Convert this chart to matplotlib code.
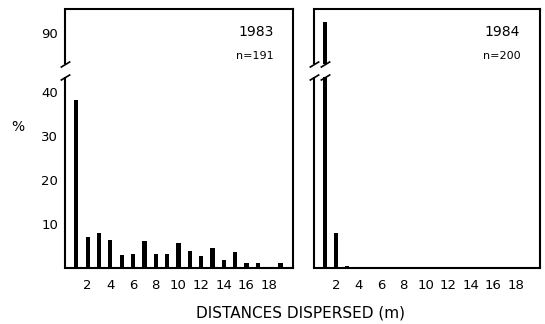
import numpy as np
import matplotlib
matplotlib.use("Agg")
import matplotlib.pyplot as plt
from matplotlib.patches import Rectangle

# ---- data ----
distances = list(range(1, 20))
pct_1983 = [38.2, 7.1, 7.9, 6.3, 2.9, 3.1, 6.1, 3.1, 3.1, 5.6, 3.9, 2.8, 4.6, 1.8, 3.6, 1.1, 1.1, 0, 1.1]
pct_1984 = [92.5, 8.0, 0.5, 0, 0, 0, 0, 0, 0, 0, 0, 0, 0, 0, 0, 0, 0, 0, 0]
years = ["1983", "1984"]
ns = ["n=191", "n=200"]
ytick_vals = [10, 20, 30, 40, 90]
xtick_vals = [2, 4, 6, 8, 10, 12, 14, 16, 18]

# ---- broken y scale ----
B1, B2, G = 43.5, 83.0, 3.0
K = G / (B2 - B1)

def fwd(y):
    y = np.asarray(y, dtype=float)
    return np.where(y <= B1, y, np.where(y >= B2, y - (B2 - B1) + G, B1 + (y - B1) * K))

def inv(v):
    v = np.asarray(v, dtype=float)
    return np.where(v <= B1, v, np.where(v >= B1 + G, v + (B2 - B1) - G, B1 + (v - B1) / K))

plt.rcParams['font.family'] = ['DejaVu Sans']
fig = plt.figure(figsize=(5.45, 3.24), dpi=100)
W, H = 545, 324
bottom_px, top_px = 268, 9
axes = [
    fig.add_axes([65 / W, (H - bottom_px) / H, 228 / W, (bottom_px - top_px) / H]),
    fig.add_axes([313.5 / W, (H - bottom_px) / H, 226 / W, (bottom_px - top_px) / H]),
]

lw = 1.5
d = 0.6
brk = dict(marker=[(-1, -d), (1, d)], markersize=7, linestyle='none',
           color='k', mec='k', mew=1.2, clip_on=False, zorder=6)

for i, (ax, vals) in enumerate(zip(axes, [pct_1983, pct_1984])):
    ax.set_yscale('function', functions=(fwd, inv))
    ax.set_ylim(0, 95.4)
    ax.set_xlim(0, 20.1)
    ax.bar(distances, vals, width=0.37, color='black', zorder=3)
    for s in ['top', 'right', 'bottom']:
        ax.spines[s].set_linewidth(lw)
    ax.spines['left'].set_visible(False)
    tr = ax.get_yaxis_transform()
    ax.plot([0, 0], [0, B1], color='k', lw=lw, transform=tr, clip_on=False, solid_capstyle='butt')
    ax.plot([0, 0], [B2, 95.4], color='k', lw=lw, transform=tr, clip_on=False, solid_capstyle='butt')
    ax.plot([0, 0], [B1, B2], transform=tr, **brk)
    # break tall bars
    for x, v in zip(distances, vals):
        if v > B2:
            ax.add_patch(Rectangle((x - 0.4, B1), 0.8, B2 - B1, facecolor='white',
                                   edgecolor='none', zorder=4))
            ax.plot([x, x], [B1, B2], **brk)
    ax.set_xticks(xtick_vals)
    ax.set_xticklabels([str(v) for v in xtick_vals], fontsize=9.5)
    ax.tick_params(axis='both', length=0)
    ax.tick_params(axis='x', pad=8)
    if i == 0:
        ax.set_yticks(ytick_vals)
        ax.set_yticklabels([str(v) for v in ytick_vals], fontsize=9.5)
        ax.tick_params(axis='y', pad=5)
    else:
        ax.set_yticks([])
    ax.text(0.915, 0.91, years[i], transform=ax.transAxes, ha='right', va='center', fontsize=10)
    ax.text(0.915, 0.82, ns[i], transform=ax.transAxes, ha='right', va='center', fontsize=8)

fig.text(18 / W, 1 - 127 / H, "%", ha='center', va='center', fontsize=10)
fig.text(300 / W, 1 - 313 / H, "DISTANCES DISPERSED (m)", ha='center', va='center', fontsize=11)

fig.savefig("out.png", dpi=100, facecolor='white')
